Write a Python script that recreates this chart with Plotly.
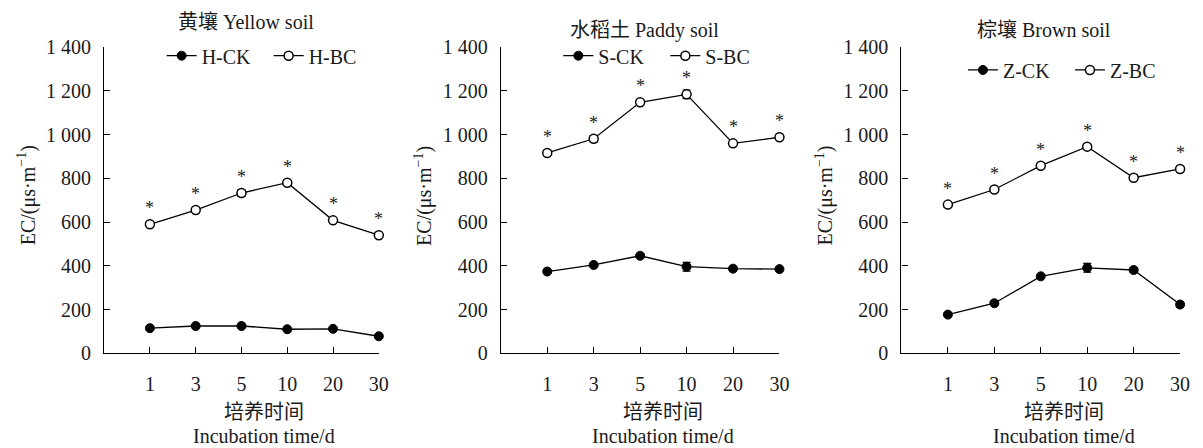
import plotly.graph_objects as go

days = ["1", "3", "5", "10", "20", "30"]
xpos = [1, 2, 3, 4, 5, 6]

panel_titles = ["黄壤 Yellow soil", "水稻土 Paddy soil", "棕壤 Brown soil"]
ck_names = ["H-CK", "S-CK", "Z-CK"]
bc_names = ["H-BC", "S-BC", "Z-BC"]

h_ck = [115, 125, 125, 110, 112, 78]
h_ck_err = [8, 6, 6, 6, 6, 8]
h_bc = [590, 655, 733, 780, 608, 540]
h_bc_err = [10, 8, 15, 8, 5, 10]

s_ck = [374, 404, 446, 396, 387, 385]
s_ck_err = [8, 8, 8, 20, 8, 5]
s_bc = [916, 981, 1148, 1184, 960, 988]
s_bc_err = [10, 15, 8, 20, 5, 5]

z_ck = [177, 229, 352, 391, 381, 223]
z_ck_err = [8, 8, 8, 20, 10, 12]
z_bc = [680, 749, 858, 945, 803, 843]
z_bc_err = [8, 8, 10, 10, 12, 8]

y_ticks = [0, 200, 400, 600, 800, 1000, 1200, 1400]
y_ticktext = ["0", "200", "400", "600", "800", "1 000", "1 200", "1 400"]

ck_all = [h_ck, s_ck, z_ck]
ck_err_all = [h_ck_err, s_ck_err, z_ck_err]
bc_all = [h_bc, s_bc, z_bc]
bc_err_all = [h_bc_err, s_bc_err, z_bc_err]

W, H = 1203, 448
FONT = "Liberation Serif, Noto Sans CJK SC, serif"
TXT = "#1a1a1a"

# pixel layout of the three panels
x_dom_px = [(105, 382), (505, 786), (909, 1190)]
y_top_px, y_bot_px = 38, 360
title_px = [(248, 12), (650, 20), (1053, 20)]
legend_px = [(163, 47), (563, 47), (971, 62)]

fig = go.Figure()
layout = dict(
    width=W, height=H,
    margin=dict(l=0, r=0, t=0, b=0),
    paper_bgcolor="white", plot_bgcolor="white",
    font=dict(family=FONT, size=20, color=TXT),
    annotations=[],
)

for i in range(3):
    ax = "" if i == 0 else str(i + 1)
    xa, ya = "x" + ax, "y" + ax
    lg = "legend" if i == 0 else "legend" + str(i + 1)
    fig.add_trace(go.Scatter(
        x=xpos, y=ck_all[i], name=ck_names[i], xaxis=xa, yaxis=ya, legend=lg,
        mode="lines+markers", cliponaxis=False,
        line=dict(color="black", width=1.3),
        marker=dict(symbol="circle", size=9, color="black", line=dict(color="black", width=1)),
        error_y=dict(type="data", array=ck_err_all[i], color="black", thickness=1.2, width=4),
    ))
    fig.add_trace(go.Scatter(
        x=xpos, y=bc_all[i], name=bc_names[i], xaxis=xa, yaxis=ya, legend=lg,
        mode="lines+markers", cliponaxis=False,
        line=dict(color="black", width=1.3),
        marker=dict(symbol="circle", size=9, color="white", line=dict(color="black", width=1.5)),
        error_y=dict(type="data", array=bc_err_all[i], color="black", thickness=1.2, width=4),
    ))
    x0, x1 = x_dom_px[i]
    layout["xaxis" + ax] = dict(
        domain=[x0 / W, x1 / W], range=[0, 6], anchor=ya,
        tickvals=xpos, ticktext=days, ticks="inside", ticklen=6, tickcolor="black",
        showline=True, linecolor="black", linewidth=1.3, showgrid=False, zeroline=False,
        ticklabelstandoff=13, tickfont=dict(family=FONT, size=20, color=TXT),
    )
    layout["yaxis" + ax] = dict(
        domain=[1 - y_bot_px / H, 1 - y_top_px / H], range=[0, 1400], anchor=xa,
        tickvals=y_ticks, ticktext=y_ticktext, ticks="inside", ticklen=6, tickcolor="black",
        showline=True, linecolor="black", linewidth=1.3, showgrid=False, zeroline=False,
        ticklabelstandoff=8, tickfont=dict(family=FONT, size=20, color=TXT),
    )
    lx, ly = legend_px[i]
    layout[lg] = dict(
        orientation="h", x=lx / W, y=1 - ly / H, xanchor="left", yanchor="middle",
        bgcolor="rgba(0,0,0,0)", font=dict(family=FONT, size=20, color=TXT), itemclick=False,
        tracegroupgap=0, entrywidth=62, entrywidthmode="pixels",
    )
    tx, ty = title_px[i]
    layout["annotations"].append(dict(
        text=panel_titles[i], x=tx / W, y=1 - ty / H, xref="paper", yref="paper",
        showarrow=False, xanchor="center", yanchor="middle", font=dict(family=FONT, size=20, color=TXT)))
    # y-axis title
    layout["annotations"].append(dict(
        text="EC/(μs·m<sup>−1</sup>)", x=(x0 - 78) / W, y=1 - 194 / H, xref="paper", yref="paper",
        showarrow=False, textangle=-90, xanchor="center", yanchor="middle",
        font=dict(family=FONT, size=20, color=TXT)))
    # x-axis title
    cx = (x0 + 46 + x1) / 2
    layout["annotations"].append(dict(
        text="培养时间", x=cx / W, y=1 - 422 / H, xref="paper", yref="paper",
        showarrow=False, xanchor="center", yanchor="middle", font=dict(family=FONT, size=20, color=TXT)))
    layout["annotations"].append(dict(
        text="Incubation time/d", x=cx / W, y=0, xref="paper", yref="paper",
        showarrow=False, xanchor="center", yanchor="bottom", yshift=-12,
        font=dict(family=FONT, size=20, color=TXT)))
    # significance asterisks
    for xv, yv in zip(xpos, bc_all[i]):
        layout["annotations"].append(dict(
            text="*", x=xv, y=yv, xref=xa, yref=ya, showarrow=False,
            xanchor="center", yanchor="middle", yshift=16, font=dict(family=FONT, size=18, color=TXT)))

fig.update_layout(**layout)
fig.write_html("out.html")
